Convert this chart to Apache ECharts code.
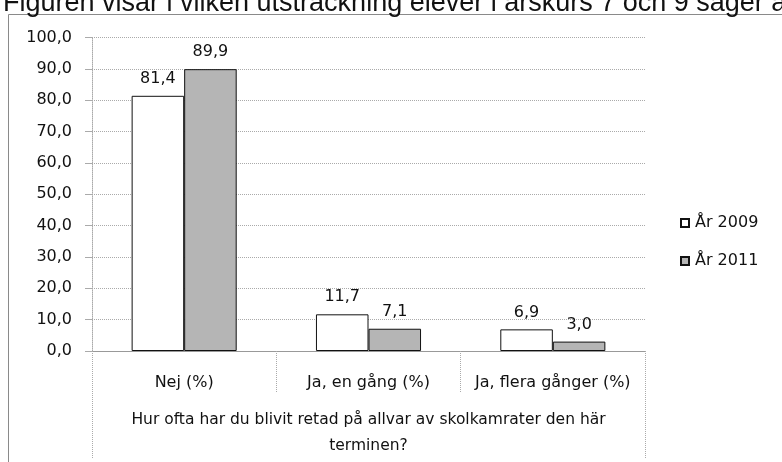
<!DOCTYPE html>
<html>
<head>
<meta charset="utf-8">
<script src="https://cdn.jsdelivr.net/npm/echarts@6/dist/echarts.min.js"></script>
<style>
  html, body { margin: 0; padding: 0; background: #fff; }
  #chart { width: 782px; height: 462px; }
</style>
</head>
<body>
<div id="chart"></div>
<script>
const categories = ['Nej (%)', 'Ja, en gång (%)', 'Ja, flera gånger (%)']
const values2009 = [81.4, 11.7, 6.9]
const values2011 = [89.9, 7.1, 3.0]
const seriesNames = ['År 2009', 'År 2011']
const axisTitle = ['Hur ofta har du blivit retad på allvar av skolkamrater den här\nterminen?']
const pageText = 'Figuren visar i vilken utsträckning elever i årskurs 7 och 9 säger att'

const font = 'DejaVu Sans'
const fmt = (v) => Number(v).toFixed(1).replace('.', ',')

const chart = echarts.init(document.getElementById('chart'))
const option = {
  animation: false,
  textStyle: { fontFamily: font },
  title: {
    text: pageText,
    left: -2,
    top: -15,
    textStyle: { fontFamily: 'Liberation Sans', fontSize: 27, fontWeight: 'normal', color: '#111' }
  },
  graphic: [
    {
      type: 'rect',
      shape: { x: 8.5, y: 14.5, width: 900, height: 500 },
      style: { fill: 'none', stroke: '#8a8a8a', lineWidth: 1 },
      silent: true
    }
  ],
  legend: {
    orient: 'vertical',
    left: 675,
    top: 210,
    itemWidth: 8,
    itemHeight: 8,
    itemGap: 22,
    icon: 'rect',
    textStyle: { fontFamily: font, fontSize: 16, color: '#111', padding: [0, 0, 0, 1] },
    data: seriesNames
  },
  grid: { left: 92, right: 137, top: 37.5, bottom: 111 },
  xAxis: [
    {
      type: 'category',
      data: categories,
      axisLine: { lineStyle: { color: '#999' } },
      axisTick: { show: true, length: 41, lineStyle: { color: '#aaa', type: 'dotted' } },
      axisLabel: { interval: 0, margin: 24, fontFamily: font, fontSize: 16, color: '#111' }
    },
    {
      type: 'category',
      position: 'bottom',
      data: axisTitle,
      axisLine: { show: false },
      axisTick: { show: true, length: 107, lineStyle: { color: '#aaa', type: 'dotted' } },
      axisLabel: { interval: 0, margin: 56, fontFamily: font, fontSize: 15.5, lineHeight: 26, color: '#111' }
    }
  ],
  yAxis: {
    type: 'value',
    min: 0,
    max: 100,
    interval: 10,
    axisLine: { show: true, lineStyle: { color: '#aaa', type: 'dotted' } },
    axisTick: { show: true, length: 7, lineStyle: { color: '#aaa' } },
    axisLabel: { margin: 20, fontFamily: font, fontSize: 16, color: '#111', formatter: fmt },
    splitLine: { lineStyle: { color: '#aaa', type: 'dotted' } }
  },
  series: [
    {
      name: seriesNames[0],
      type: 'bar',
      data: values2009,
      barGap: '0%',
      barCategoryGap: '43%',
      itemStyle: { color: '#ffffff', borderColor: '#111', borderWidth: 1 },
      label: { show: true, position: 'top', distance: 9, fontFamily: font, fontSize: 16, color: '#111', formatter: (p) => fmt(p.value) }
    },
    {
      name: seriesNames[1],
      type: 'bar',
      data: values2011,
      itemStyle: { color: '#b5b5b5', borderColor: '#111', borderWidth: 1 },
      label: { show: true, position: 'top', distance: 9, fontFamily: font, fontSize: 16, color: '#111', formatter: (p) => fmt(p.value) }
    }
  ]
}
chart.setOption(option)
</script>
</body>
</html>
